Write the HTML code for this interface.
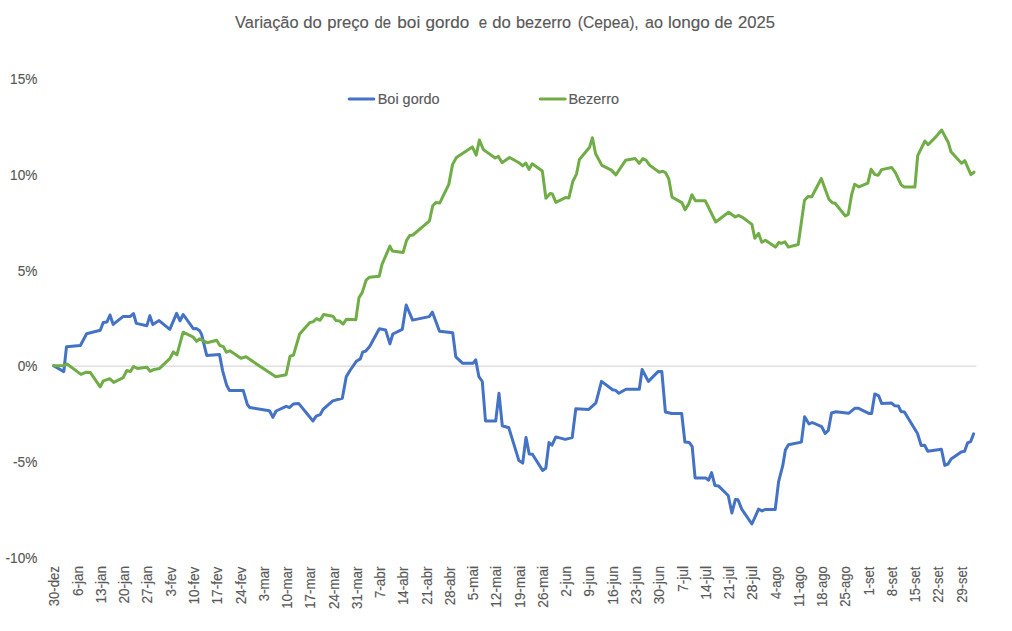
<!DOCTYPE html><html><head><meta charset="utf-8"><style>html,body{margin:0;padding:0;background:#fff;}svg{display:block;}text{font-family:"Liberation Sans",sans-serif;fill:#595959;stroke:#595959;stroke-width:0.15px;}</style></head><body>
<svg width="1012" height="631" viewBox="0 0 1012 631">
<rect width="1012" height="631" fill="#ffffff"/>
<text transform="translate(235.12,27.80) scale(0.9935,1)" font-size="16.50">Variação</text>
<text transform="translate(303.23,27.80) scale(1.0121,1)" font-size="16.50">do</text>
<text transform="translate(327.22,27.80) scale(1.0097,1)" font-size="16.50">preço</text>
<text transform="translate(374.61,27.80) scale(0.8987,1)" font-size="16.50">de</text>
<text transform="translate(397.28,27.80) scale(1.0455,1)" font-size="16.50">boi</text>
<text transform="translate(425.51,27.80) scale(1.0383,1)" font-size="16.50">gordo</text>
<text transform="translate(478.72,27.80) scale(0.9123,1)" font-size="16.50">e</text>
<text transform="translate(492.23,27.80) scale(1.0121,1)" font-size="16.50">do</text>
<text transform="translate(515.94,27.80) scale(0.9870,1)" font-size="16.50">bezerro</text>
<text transform="translate(577.86,27.80) scale(0.9483,1)" font-size="16.50">(Cepea),</text>
<text transform="translate(644.98,27.80) scale(0.9756,1)" font-size="16.50">ao</text>
<text transform="translate(667.99,27.80) scale(1.0386,1)" font-size="16.50">longo</text>
<text transform="translate(714.45,27.80) scale(0.9815,1)" font-size="16.50">de</text>
<text transform="translate(737.97,27.80) scale(1.0106,1)" font-size="16.50">2025</text>
<text transform="translate(10.08,84.20) scale(0.9750,1)" font-size="14.00">15%</text>
<text transform="translate(10.08,179.90) scale(0.9750,1)" font-size="14.00">10%</text>
<text transform="translate(17.65,275.60) scale(0.9750,1)" font-size="14.00">5%</text>
<text transform="translate(17.65,371.20) scale(0.9750,1)" font-size="14.00">0%</text>
<text transform="translate(13.08,466.90) scale(0.9750,1)" font-size="14.00">-5%</text>
<text transform="translate(5.50,562.60) scale(0.9750,1)" font-size="14.00">-10%</text>
<line x1="53" y1="366.2" x2="976.4" y2="366.2" stroke="#d9d9d9" stroke-width="1.2"/>
<text transform="translate(59.40,606.33) rotate(-90) scale(0.9380,1)" font-size="14.0">30-dez</text>
<text transform="translate(82.66,595.98) rotate(-90) scale(0.9648,1)" font-size="14.0">6-jan</text>
<text transform="translate(105.93,603.51) rotate(-90) scale(0.9659,1)" font-size="14.0">13-jan</text>
<text transform="translate(129.19,603.58) rotate(-90) scale(0.9676,1)" font-size="14.0">20-jan</text>
<text transform="translate(152.46,603.58) rotate(-90) scale(0.9676,1)" font-size="14.0">27-jan</text>
<text transform="translate(175.72,596.54) rotate(-90) scale(0.9567,1)" font-size="14.0">3-fev</text>
<text transform="translate(198.98,604.42) rotate(-90) scale(0.9683,1)" font-size="14.0">10-fev</text>
<text transform="translate(222.25,604.42) rotate(-90) scale(0.9683,1)" font-size="14.0">17-fev</text>
<text transform="translate(245.51,604.28) rotate(-90) scale(0.9646,1)" font-size="14.0">24-fev</text>
<text transform="translate(268.78,601.13) rotate(-90) scale(0.9449,1)" font-size="14.0">3-mar</text>
<text transform="translate(292.04,608.80) rotate(-90) scale(0.9524,1)" font-size="14.0">10-mar</text>
<text transform="translate(315.30,608.80) rotate(-90) scale(0.9524,1)" font-size="14.0">17-mar</text>
<text transform="translate(338.57,609.07) rotate(-90) scale(0.9585,1)" font-size="14.0">24-mar</text>
<text transform="translate(361.83,608.94) rotate(-90) scale(0.9554,1)" font-size="14.0">31-mar</text>
<text transform="translate(385.10,598.28) rotate(-90) scale(0.9713,1)" font-size="14.0">7-abr</text>
<text transform="translate(408.36,605.10) rotate(-90) scale(0.9515,1)" font-size="14.0">14-abr</text>
<text transform="translate(431.62,604.76) rotate(-90) scale(0.9431,1)" font-size="14.0">21-abr</text>
<text transform="translate(454.89,605.17) rotate(-90) scale(0.9532,1)" font-size="14.0">28-abr</text>
<text transform="translate(478.15,600.15) rotate(-90) scale(0.9782,1)" font-size="14.0">5-mai</text>
<text transform="translate(501.42,607.73) rotate(-90) scale(0.9777,1)" font-size="14.0">12-mai</text>
<text transform="translate(524.68,608.03) rotate(-90) scale(0.9851,1)" font-size="14.0">19-mai</text>
<text transform="translate(547.94,607.68) rotate(-90) scale(0.9767,1)" font-size="14.0">26-mai</text>
<text transform="translate(571.21,596.79) rotate(-90) scale(0.9919,1)" font-size="14.0">2-jun</text>
<text transform="translate(594.47,596.72) rotate(-90) scale(0.9895,1)" font-size="14.0">9-jun</text>
<text transform="translate(617.74,604.65) rotate(-90) scale(0.9957,1)" font-size="14.0">16-jun</text>
<text transform="translate(641.00,604.49) rotate(-90) scale(0.9917,1)" font-size="14.0">23-jun</text>
<text transform="translate(664.26,604.35) rotate(-90) scale(0.9880,1)" font-size="14.0">30-jun</text>
<text transform="translate(687.53,591.89) rotate(-90) scale(0.9819,1)" font-size="14.0">7-jul</text>
<text transform="translate(710.79,599.63) rotate(-90) scale(0.9854,1)" font-size="14.0">14-jul</text>
<text transform="translate(734.06,599.28) rotate(-90) scale(0.9749,1)" font-size="14.0">21-jul</text>
<text transform="translate(757.32,599.90) rotate(-90) scale(0.9933,1)" font-size="14.0">28-jul</text>
<text transform="translate(780.58,599.12) rotate(-90) scale(0.9180,1)" font-size="14.0">4-ago</text>
<text transform="translate(803.85,607.01) rotate(-90) scale(0.9573,1)" font-size="14.0">11-ago</text>
<text transform="translate(827.11,606.98) rotate(-90) scale(0.9333,1)" font-size="14.0">18-ago</text>
<text transform="translate(850.38,606.85) rotate(-90) scale(0.9303,1)" font-size="14.0">25-ago</text>
<text transform="translate(873.64,595.57) rotate(-90) scale(0.9279,1)" font-size="14.0">1-set</text>
<text transform="translate(896.90,596.20) rotate(-90) scale(0.9480,1)" font-size="14.0">8-set</text>
<text transform="translate(920.17,602.47) rotate(-90) scale(0.9197,1)" font-size="14.0">15-set</text>
<text transform="translate(943.43,602.65) rotate(-90) scale(0.9244,1)" font-size="14.0">22-set</text>
<text transform="translate(966.70,602.65) rotate(-90) scale(0.9244,1)" font-size="14.0">29-set</text>
<line x1="349.2" y1="99.1" x2="373.8" y2="99.1" stroke="#4472c4" stroke-width="3" stroke-linecap="round"/>
<text transform="translate(377.74,103.70) scale(1.0319,1)" font-size="14.00">Boi gordo</text>
<line x1="540.2" y1="99.1" x2="565.2" y2="99.1" stroke="#70ad47" stroke-width="3" stroke-linecap="round"/>
<text transform="translate(568.44,103.70) scale(1.0313,1)" font-size="14.00">Bezerro</text>
<polyline points="53.6,365.7 63.8,371.6 66.5,346.7 80.4,345.5 86.6,333.7 100.3,330.3 103.2,322.5 107.0,321.9 110.0,315.0 113.2,324.4 123.2,316.4 130.3,316.4 133.5,313.5 136.3,323.4 146.9,325.7 149.8,315.8 152.8,324.6 159.1,320.6 169.8,329.4 176.6,313.3 180.0,320.8 183.2,314.5 193.3,328.7 196.3,328.4 199.4,330.4 201.6,334.4 206.7,355.4 219.5,354.6 222.7,371.1 226.7,385.3 229.5,390.6 243.3,390.6 247.3,404.4 249.7,407.5 269.5,410.7 272.9,417.3 276.1,411.0 286.1,406.3 289.7,407.5 293.2,404.0 298.8,403.6 313.0,421.0 316.2,416.2 320.1,414.7 323.3,409.1 332.8,400.9 342.3,398.3 346.3,376.6 350.0,370.5 356.3,361.3 360.3,358.9 362.7,352.1 365.8,351.0 369.8,346.2 379.3,328.8 385.6,329.9 389.9,343.9 392.8,334.0 402.3,329.3 406.2,305.0 412.6,320.1 429.2,316.6 432.4,312.2 439.5,331.2 452.7,332.8 455.8,356.9 462.5,363.2 473.2,363.2 475.7,359.8 478.9,376.7 482.3,381.5 485.5,421.0 495.7,421.0 499.0,393.3 502.3,425.8 508.8,427.8 518.9,460.6 522.7,463.1 526.0,437.4 529.2,453.9 532.4,454.3 542.6,470.4 545.8,468.2 549.0,442.5 552.0,445.2 555.8,436.9 565.2,439.4 572.2,437.6 575.8,408.8 588.8,409.4 595.9,402.8 601.5,381.4 612.6,389.8 615.7,390.4 618.9,393.3 626.0,389.3 639.3,389.3 642.1,369.5 648.4,381.4 658.3,371.4 661.8,371.4 665.4,412.0 671.7,413.5 681.7,413.5 684.9,442.1 689.2,442.4 692.2,446.6 695.1,477.9 705.6,477.9 708.6,480.2 711.6,472.6 714.9,485.4 718.4,485.9 728.2,495.5 731.9,513.0 735.4,499.4 738.0,499.7 741.7,509.1 751.9,524.0 758.6,509.1 762.1,511.0 765.1,509.5 775.2,509.5 778.6,481.7 782.7,465.9 785.4,450.1 788.4,444.8 801.4,442.1 804.6,416.8 809.0,424.0 812.2,422.5 821.7,426.7 825.2,433.5 828.3,430.4 831.5,413.0 835.9,411.7 848.6,413.3 855.0,408.2 858.1,408.2 869.2,413.6 871.6,413.6 874.8,393.9 878.7,395.8 881.6,403.4 891.4,403.0 894.6,405.7 898.5,406.1 900.9,411.4 904.4,412.0 917.5,433.5 921.2,445.5 924.6,445.2 927.8,451.3 941.4,449.3 944.8,465.4 948.1,464.0 951.1,459.0 961.2,452.0 964.6,451.3 967.5,442.9 970.7,441.6 973.6,433.8" fill="none" stroke="#4472c4" stroke-width="3" stroke-linejoin="round" stroke-linecap="round"/>
<polyline points="53.6,365.7 64.2,365.4 67.0,364.0 81.0,374.4 86.2,372.2 90.4,372.6 100.2,386.8 103.4,380.8 109.7,378.7 113.7,382.4 123.2,377.6 126.8,370.5 130.3,371.6 133.5,366.5 137.4,368.4 146.9,367.3 150.1,371.3 154.1,369.4 159.6,368.4 170.0,358.3 173.3,351.9 176.9,354.9 183.1,332.2 193.3,337.2 196.6,341.3 199.4,338.8 207.2,342.7 216.6,340.2 219.9,345.5 223.3,346.6 226.4,352.2 229.9,350.8 240.9,358.3 246.0,356.7 254.4,362.6 275.8,376.8 286.1,374.8 290.0,356.2 293.5,355.1 299.6,334.1 309.9,322.5 313.0,321.9 316.7,318.7 320.1,320.3 323.6,314.6 332.8,316.2 336.0,320.6 339.5,320.9 343.1,324.1 346.3,319.3 355.8,319.8 359.0,297.6 362.2,292.6 366.1,280.2 369.3,277.3 379.3,276.2 382.0,264.4 389.9,246.1 392.3,250.9 403.1,252.5 406.5,240.6 409.7,235.5 412.9,235.0 429.5,220.8 432.7,205.8 435.8,202.6 439.8,202.9 448.8,184.4 452.5,164.6 456.4,157.5 472.3,146.9 476.2,155.1 479.4,140.0 483.4,149.6 495.2,158.0 498.4,156.4 502.1,162.7 509.5,157.5 519.0,162.7 522.7,165.9 525.8,163.0 529.0,169.4 532.2,163.8 542.3,170.9 545.9,198.2 550.2,193.4 552.3,193.9 555.9,202.3 565.4,197.6 568.9,197.9 572.9,181.2 576.5,174.1 579.4,159.5 589.6,147.2 592.4,137.7 595.6,153.8 601.9,165.4 611.4,170.1 615.9,174.9 625.7,160.2 635.2,158.6 639.2,163.3 642.8,158.6 646.0,160.2 649.8,165.4 659.3,172.2 662.9,171.3 665.6,172.8 668.8,178.9 672.0,197.1 681.9,202.6 685.1,209.8 688.7,203.9 691.9,194.7 695.4,200.7 705.2,200.7 715.7,222.0 728.6,212.3 735.3,217.0 738.5,215.4 742.4,217.3 751.9,224.4 754.8,238.2 758.6,233.4 761.8,242.3 765.4,240.2 775.4,247.1 778.9,242.3 781.2,243.4 784.9,241.8 788.4,247.1 798.2,244.5 804.5,200.2 808.2,196.4 811.8,196.7 821.3,178.5 828.8,199.1 832.4,202.7 835.1,203.3 845.4,216.0 848.2,214.4 851.7,194.3 854.6,184.3 858.9,186.9 867.8,183.1 871.1,169.3 875.0,174.6 878.2,175.2 881.6,169.6 891.7,167.5 895.4,172.7 901.3,185.1 904.2,187.0 914.9,187.0 917.7,155.6 924.9,141.0 928.1,144.7 936.3,136.4 941.6,130.0 948.4,142.8 951.0,151.8 961.5,163.2 964.8,160.6 970.9,174.6 974.0,172.2" fill="none" stroke="#70ad47" stroke-width="3" stroke-linejoin="round" stroke-linecap="round"/>
</svg></body></html>
